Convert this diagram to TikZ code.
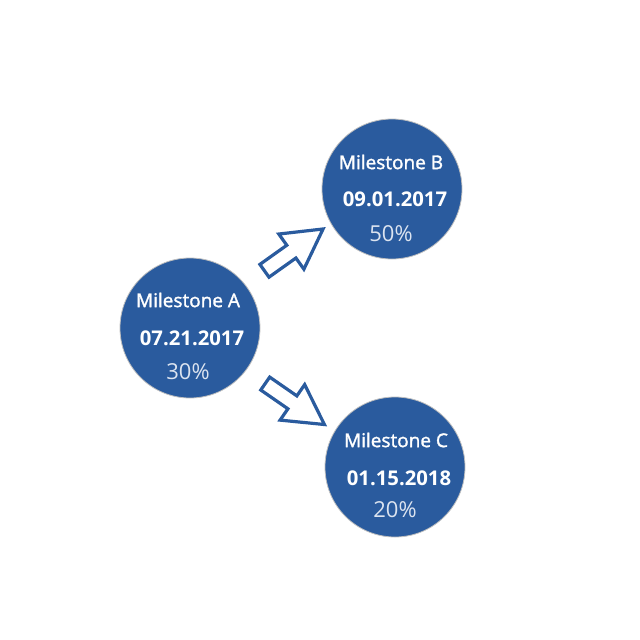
\documentclass[tikz,border=0pt]{standalone}
\usepackage{fontspec}
\setmainfont{Open Sans}
\newfontfamily\osemi[FakeBold=1.6]{Open Sans}
\usetikzlibrary{shapes.arrows}
\definecolor{msblue}{RGB}{42,91,158}
\definecolor{pctcol}{RGB}{220,228,240}
\tikzset{
  milestone/.style={circle, fill=msblue, draw=black!25, line width=0.8pt, minimum size=140pt, inner sep=0pt},
  mtitle/.style={text=white, font=\osemi\fontsize{19}{22}\selectfont, inner sep=0pt},
  mdate/.style={text=white, font=\fontsize{20.3}{23}\selectfont\bfseries, inner sep=0pt},
  mpct/.style={text=pctcol, font=\fontsize{22}{24}\selectfont, inner sep=0pt},
  blockarrow/.style={single arrow, draw=msblue, fill=white, line width=3.2pt, minimum height=72pt, minimum width=40pt, single arrow head extend=13.75pt, single arrow tip angle=58, inner sep=6.25pt, line join=miter}
}
\begin{document}
\begin{tikzpicture}[x=1pt,y=-1pt]
\useasboundingbox (0,0) rectangle (640,640);
\node[milestone] (A) at (190,328) {};
\node[milestone] (B) at (392,189) {};
\node[milestone] (C) at (395,467) {};
\node[mtitle] (At) at (188,300) {Milestone A};
\node[mdate] (Ad) at (192,338) {07.21.2017};
\node[mpct] (Ap) at (188,372) {30\%};
\node[mtitle] (Bt) at (391,162) {Milestone B};
\node[mdate] (Bd) at (395,199) {09.01.2017};
\node[mpct] (Bp) at (391,234) {50\%};
\node[mtitle] (Ct) at (396,440) {Milestone C};
\node[mdate] (Cd) at (399,478) {01.15.2018};
\node[mpct] (Cp) at (395,510) {20\%};
\node[blockarrow, rotate=35.5] (ab) at (288,254) {};
\node[blockarrow, rotate=-34.7] (ac) at (289,400) {};
\end{tikzpicture}
\end{document}
